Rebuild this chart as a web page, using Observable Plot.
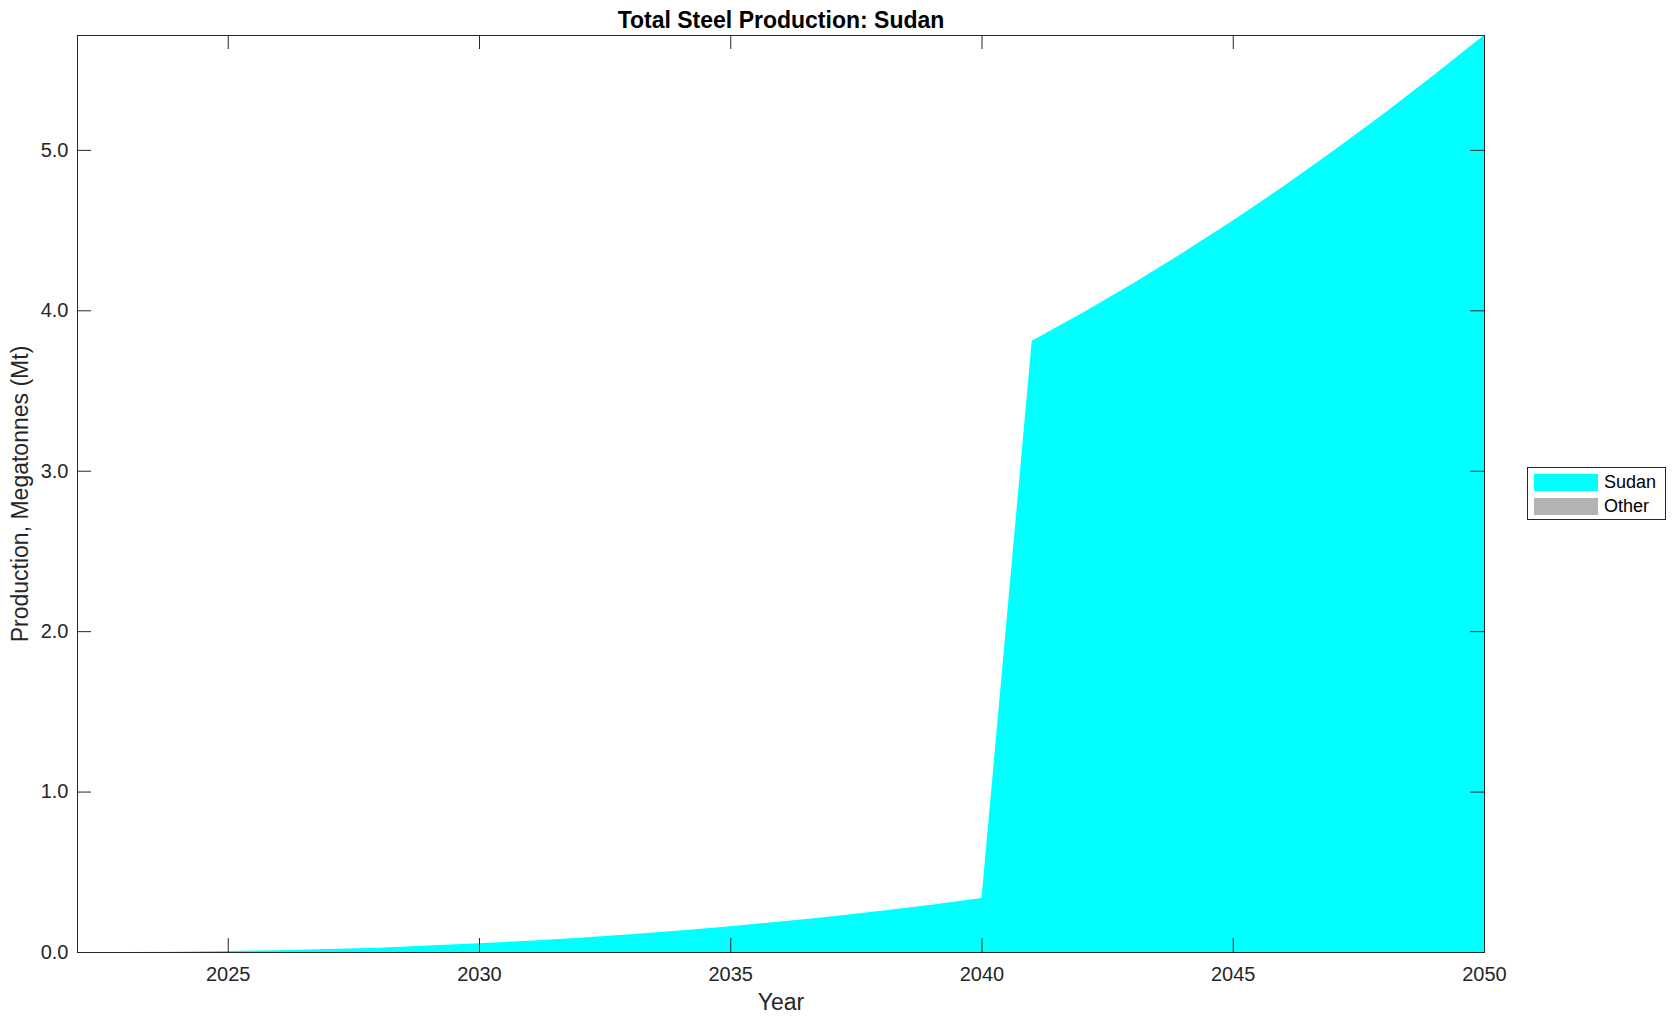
<!DOCTYPE html>
<html>
<head>
<meta charset="utf-8">
<script src="https://cdn.jsdelivr.net/npm/d3@7"></script>
<script src="https://cdn.jsdelivr.net/npm/@observablehq/plot@0.6"></script>
<style>
  body { margin: 0; background: #fff; font-family: "Liberation Sans", Arial, Helvetica, sans-serif; }
  #wrap { position: relative; width: 1678px; height: 1021px; }
  #legend { position: absolute; left: 1527px; top: 467px; width: 139px; height: 53px; border: 1px solid #262626; background: #fff; box-sizing: border-box; }
  .item { position: absolute; left: 6px; height: 17px; display: flex; align-items: center; }
  .sw { width: 64px; height: 17px; margin-right: 6px; }
  .lab { font-size: 18px; color: #000; line-height: 17px; }
</style>
</head>
<body>
<div id="wrap"><div id="chart"></div><div id="legend"></div></div>
<script>
// ---- data ----
const years = [2022, 2023, 2024, 2025, 2026, 2027, 2028, 2029, 2030, 2031, 2032, 2033, 2034, 2035,
               2036, 2037, 2038, 2039, 2040, 2041, 2042, 2043, 2044, 2045, 2046, 2047, 2048, 2049, 2050];
const sudan = [0, 0, 0.002, 0.006, 0.011, 0.018, 0.027, 0.040, 0.054, 0.070, 0.089, 0.110, 0.134, 0.160,
               0.190, 0.222, 0.257, 0.295, 0.336, 3.810, 3.983, 4.166, 4.358, 4.560, 4.772, 4.994, 5.225, 5.466, 5.716];
const other = years.map(() => 0);
const seriesNames = ["Sudan", "Other"];
const seriesColors = ["#00ffff", "#b3b3b3"];
const xTicks = [2025, 2030, 2035, 2040, 2045, 2050];
const yTicks = [0, 1, 2, 3, 4, 5];
const titleText = "Total Steel Production: Sudan";
const xLabel = "Year";
const yLabel = "Production, Megatonnes (Mt)";

const rows = [];
years.forEach((yr, i) => {
  rows.push({year: yr, series: "Sudan", value: sudan[i]});
  rows.push({year: yr, series: "Other", value: other[i]});
});

const W = 1678, H = 1021;
const mL = 77, mR = W - 1484, mT = 35, mB = H - 952;
const fw = W - mL - mR, fh = H - mT - mB;
const tick = 14;
const ink = "#262626";
const yMax = d3.max(years.map((_, i) => sudan[i] + other[i]));

const chart = Plot.plot({
  width: W, height: H,
  marginLeft: mL, marginRight: mR, marginTop: mT, marginBottom: mB,
  style: {fontFamily: '"Liberation Sans", Arial, Helvetica, sans-serif', fontSize: "20px", color: ink, background: "#fff"},
  x: {domain: [years[0], years[years.length - 1]]},
  y: {domain: [0, yMax]},
  color: {domain: seriesNames, range: seriesColors},
  marks: [
    Plot.areaY(rows, {x: "year", y: "value", fill: "series", order: seriesNames, curve: "linear"}),
    Plot.frame({stroke: ink, strokeWidth: 1}),
    Plot.tickX(xTicks, {x: d => d, insetTop: fh - tick, stroke: ink}),
    Plot.tickX(xTicks, {x: d => d, insetBottom: fh - tick, stroke: ink}),
    Plot.tickY(yTicks, {y: d => d, insetRight: fw - tick, stroke: ink}),
    Plot.tickY(yTicks, {y: d => d, insetLeft: fw - tick, stroke: ink}),
    Plot.axisX({ticks: xTicks, tickSize: 0, tickPadding: 14, tickFormat: d => String(d), label: null, fill: ink}),
    Plot.axisY({ticks: yTicks, tickSize: 0, tickPadding: 9, tickFormat: d => d.toFixed(1), label: null, fill: ink}),
    Plot.text([titleText], {frameAnchor: "top", dy: -15, fontWeight: "bold", fontSize: 23, fill: "#000", lineAnchor: "middle", textAnchor: "middle"}),
    Plot.text([xLabel], {frameAnchor: "bottom", dy: 50, fontSize: 23, fill: ink, lineAnchor: "middle", textAnchor: "middle"}),
    Plot.text([yLabel], {frameAnchor: "left", dx: -57, rotate: -90, fontSize: 23, fill: ink, lineAnchor: "middle", textAnchor: "middle"})
  ]
});
document.getElementById("chart").appendChild(chart);

const legend = document.getElementById("legend");
seriesNames.forEach((name, i) => {
  const it = document.createElement("div");
  it.className = "item";
  it.style.top = (i === 0 ? 6 : 30) + "px";
  const sw = document.createElement("div");
  sw.className = "sw";
  sw.style.background = seriesColors[i];
  const lb = document.createElement("span");
  lb.className = "lab";
  lb.textContent = name;
  it.appendChild(sw); it.appendChild(lb);
  legend.appendChild(it);
});
</script>
</body>
</html>
